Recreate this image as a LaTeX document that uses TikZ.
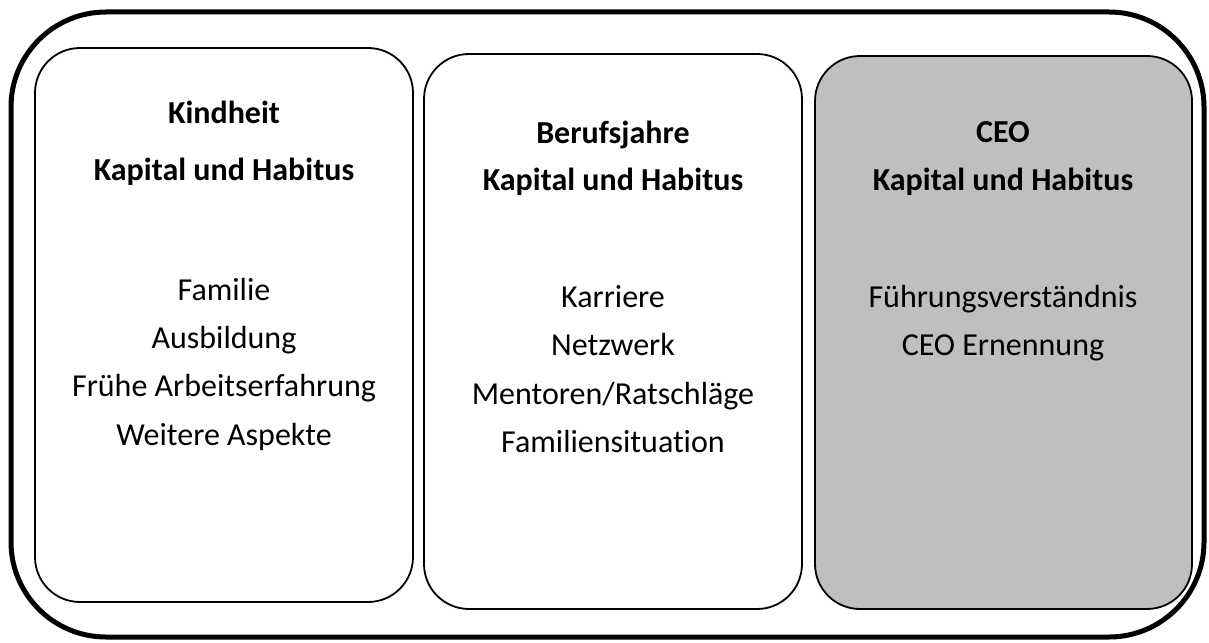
\documentclass[tikz,border=0pt]{standalone}
\usepackage{fontspec}
\setmainfont[Ligatures=NoCommon]{Carlito}
\definecolor{boxgray}{RGB}{191,191,191}
\begin{document}
\begin{tikzpicture}[x=1pt,y=-1pt,
  outerbox/.style={draw=black,line width=5pt,rounded corners=95pt},
  phasebox/.style={draw=black,line width=1.8pt,rounded corners=45pt},
  head/.style={font=\fontsize{32}{38}\selectfont\bfseries,anchor=base,inner sep=0pt},
  item/.style={font=\fontsize{32}{38}\selectfont,anchor=base,inner sep=0pt}]
\useasboundingbox (0,0) rectangle (1209,642);
\fill[white] (0,0) rectangle (1209,642);
\draw[outerbox] (11,12) rectangle (1204,637);
\draw[phasebox] (35,48) rectangle (413,602);
\draw[phasebox] (424,54) rectangle (802,609);
\draw[phasebox,fill=boxgray] (815,56) rectangle (1192,609);
% box 1
\node[head] (k1) at (224,123) {Kindheit};
\node[head] (k2) at (224,180) {Kapital und Habitus};
\node[item] (k3) at (224,300) {Familie};
\node[item] (k4) at (224,348) {Ausbildung};
\node[item] (k5) at (224,396) {Frühe Arbeitserfahrung};
\node[item] (k6) at (224,445) {Weitere Aspekte};
% box 2
\node[head] (b1) at (613,143) {Berufsjahre};
\node[head] (b2) at (613,190) {Kapital und Habitus};
\node[item] (b3) at (613,307) {Karriere};
\node[item] (b4) at (613,355) {Netzwerk};
\node[item] (b5) at (613,404) {Mentoren/Ratschläge};
\node[item] (b6) at (613,452) {Familiensituation};
% box 3
\node[head] (c1) at (1003,142) {CEO};
\node[head] (c2) at (1003,190) {Kapital und Habitus};
\node[item] (c3) at (1003,307) {Führungsverständnis};
\node[item] (c4) at (1003,355) {CEO Ernennung};
\end{tikzpicture}
\end{document}
